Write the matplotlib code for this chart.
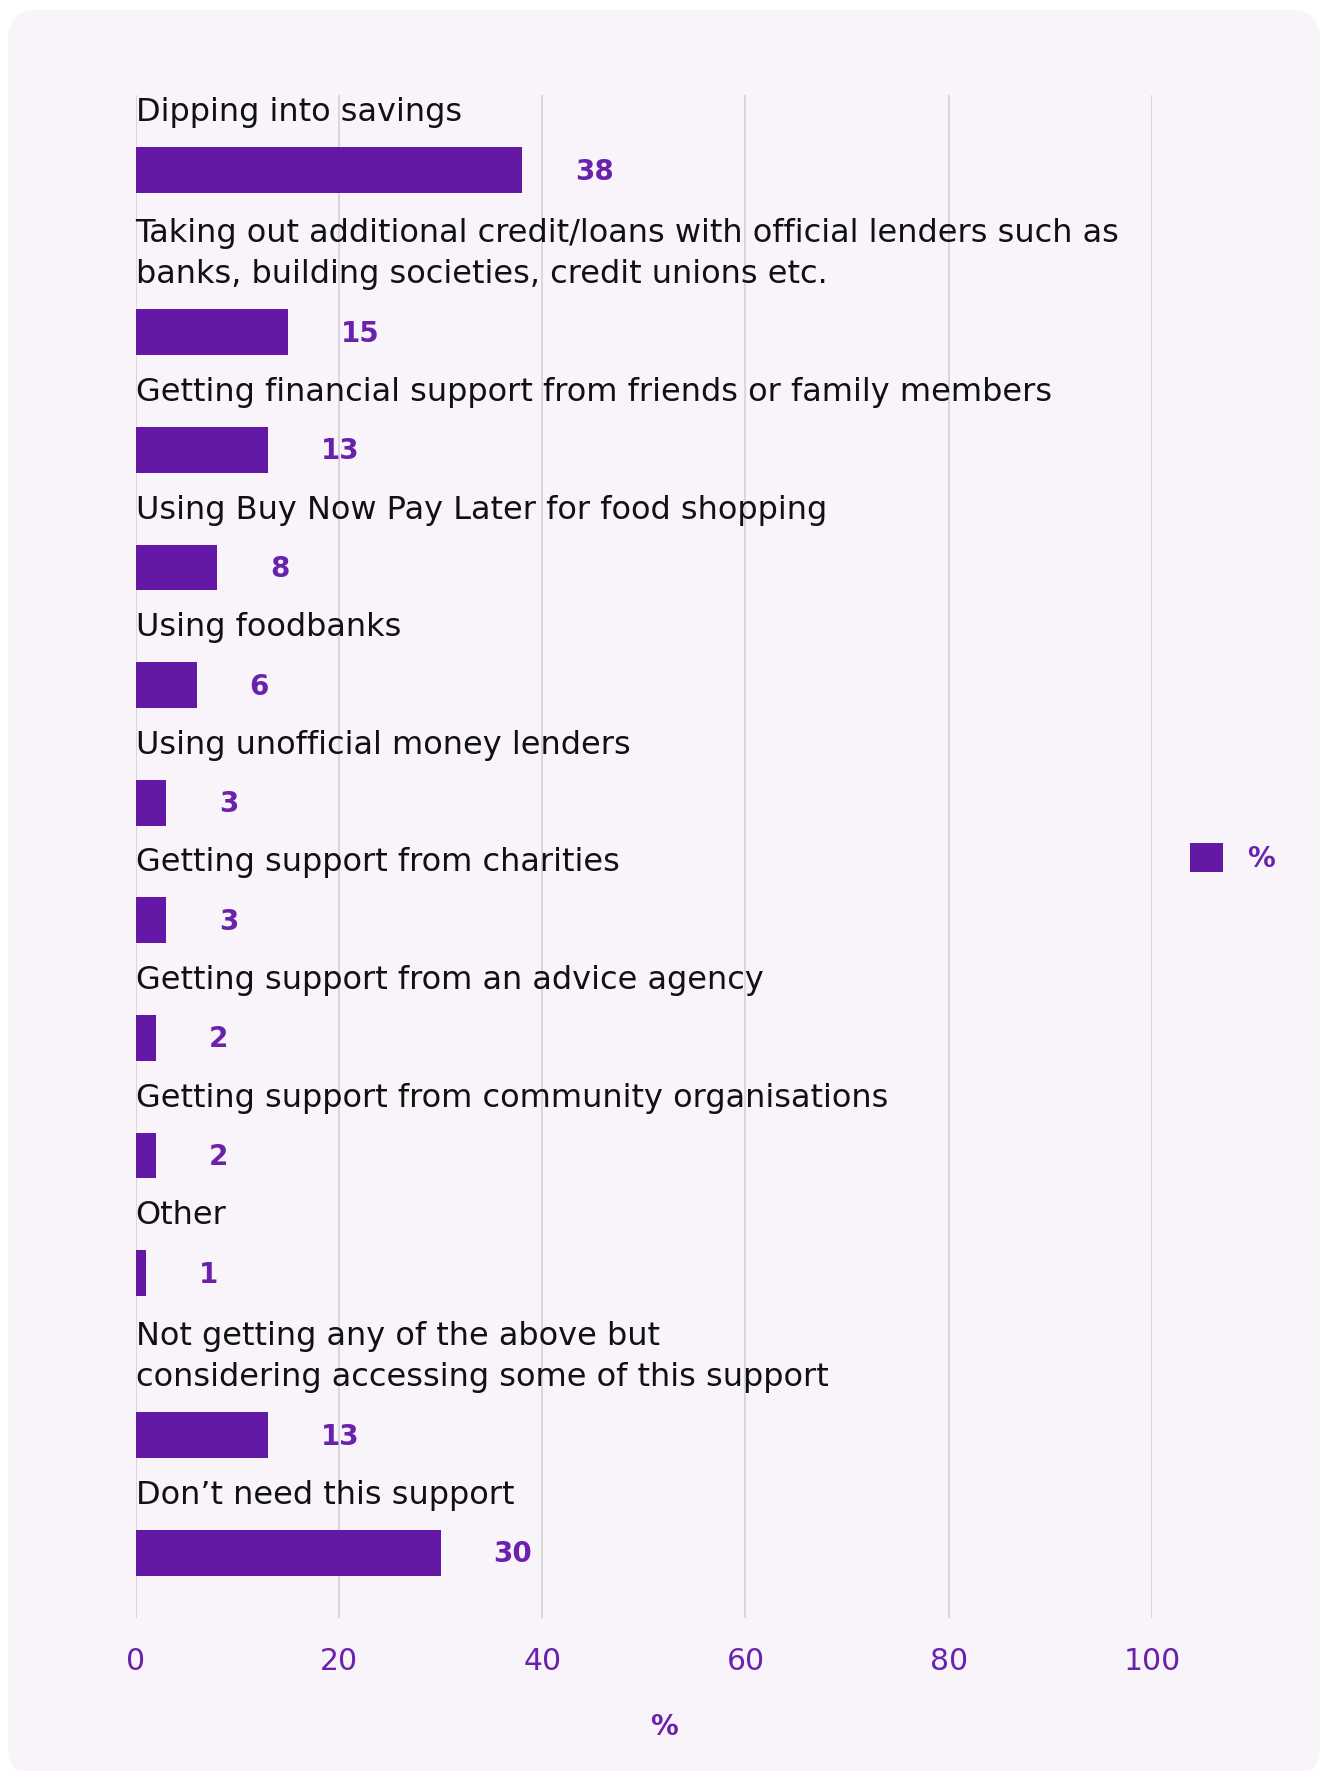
import matplotlib
matplotlib.use("Agg")
import matplotlib.pyplot as plt
from matplotlib.patches import FancyBboxPatch, Patch

# ---- data -------------------------------------------------------------
categories = [
    "Dipping into savings",
    "Taking out additional credit/loans with official lenders such as\n"
    "banks, building societies, credit unions etc.",
    "Getting financial support from friends or family members",
    "Using Buy Now Pay Later for food shopping",
    "Using foodbanks",
    "Using unofficial money lenders",
    "Getting support from charities",
    "Getting support from an advice agency",
    "Getting support from community organisations",
    "Other",
    "Not getting any of the above but\nconsidering accessing some of this support",
    "Don\u2019t need this support",
]
values = [38, 15, 13, 8, 6, 3, 3, 2, 2, 1, 13, 30]
series_name = "%"
x_ticks = [0, 20, 40, 60, 80, 100]
x_label = "%"

# ---- style ------------------------------------------------------------
BAR = "#6318A6"
ACCENT = "#6A22AC"
TEXT = "#111111"
GRID = "#D9D7DD"
PANEL = "#F8F4FA"

W, H, DPI = 1323, 1771, 100
PX = 72 / DPI  # points per pixel

plt.rcParams["font.family"] = ["DejaVu Sans"]

fig = plt.figure(figsize=(W / DPI, H / DPI), dpi=DPI, facecolor="white")

# rounded background card
panel = FancyBboxPatch(
    (8 / DPI, -6 / DPI), (1320 - 8) / DPI, (H - 10 + 6) / DPI,
    boxstyle="round,pad=0,rounding_size=0.3",
    transform=fig.dpi_scale_trans, facecolor=PANEL, edgecolor="none", zorder=0,
)
fig.add_artist(panel)

ax_left, ax_right, ax_top, ax_bottom = 135.6, 1152.0, 95.0, 1618.0
ax = fig.add_axes([ax_left / W, (H - ax_bottom) / H,
                   (ax_right - ax_left) / W, (ax_bottom - ax_top) / H])
ax.set_facecolor("none")

# category slots: each extra label line adds a little vertical room
extra_line = 0.38
pos = []
y = 0.0
for i, c in enumerate(categories):
    if i > 0:
        y += 1 + extra_line * c.count("\n")
    pos.append(y)

bar_h = 0.391
ax.barh(pos, values, height=bar_h, color=BAR, zorder=3)

ax.set_xlim(0, 100)
ax.set_ylim(pos[-1] + 0.553, -0.638)

for p, c in zip(pos, categories):
    ax.annotate(c, xy=(0, p - bar_h / 2), xytext=(0, 19 * PX),
                textcoords="offset points", ha="left", va="bottom",
                fontsize=23, color=TEXT, linespacing=1.45, zorder=4)

for p, v in zip(pos, values):
    ax.annotate(str(v), xy=(v, p), xytext=(53 * PX, -1.5 * PX),
                textcoords="offset points", ha="left", va="center",
                fontsize=20, fontweight="bold", color=ACCENT, zorder=4)

ax.set_xticks(x_ticks)
ax.set_yticks([])
ax.tick_params(axis="x", length=0, pad=21, labelsize=21.5, labelcolor=ACCENT)
for s in ax.spines.values():
    s.set_visible(False)
ax.grid(axis="x", color=GRID, linewidth=1.4, zorder=1)
ax.set_axisbelow(True)

ax.set_xlabel(x_label, fontsize=20, fontweight="bold", color=ACCENT)
ax.xaxis.set_label_coords((664 - ax_left) / (ax_right - ax_left),
                          -(1727 - ax_bottom) / (ax_bottom - ax_top))
ax.xaxis.label.set_va("center")

fs_leg = 20
em = fs_leg / PX
ax.legend(handles=[Patch(facecolor=BAR, edgecolor="none")], labels=[series_name],
          loc="center left", bbox_to_anchor=(1190 / W, 1 - 858 / H),
          bbox_transform=fig.transFigure, frameon=False,
          prop={"size": fs_leg, "weight": "bold"}, labelcolor=ACCENT,
          handlelength=33 / em, handleheight=33 / em, handletextpad=24 / em,
          borderpad=0, borderaxespad=0)

fig.savefig("out.png", dpi=DPI, facecolor="white")
